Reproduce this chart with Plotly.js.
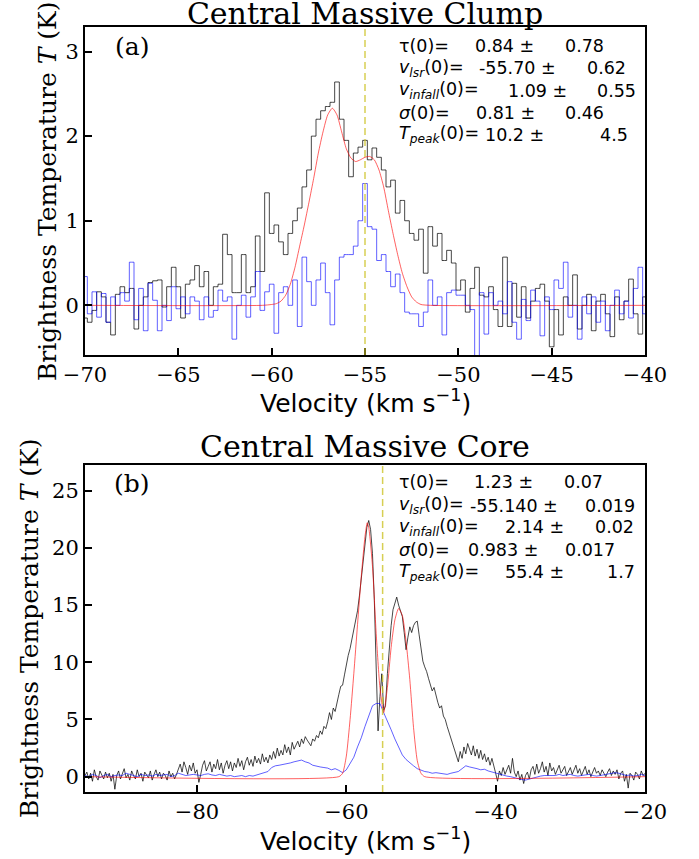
<!DOCTYPE html>
<html><head><meta charset="utf-8">
<script src="https://cdn.plot.ly/plotly-3.0.1.min.js"></script>
<style>html,body{margin:0;padding:0;background:#fff}#chart{width:699px;height:859px}</style>
</head><body><div id="chart"></div>
<script>
// ---------- Panel (a): Central Massive Clump ----------
const titleA = 'Central Massive Clump';
const velStartA = -70, chanWidthA = 0.25;
const blackA = [
 -0.15, -0.2, -0.06, 0.16, 0.1, -0.2, -0.35, 0.13, 0.22,
 0.15, 0.2, -0.28, 0.0, 0.1, 0.27, 0.29, 0.3,
 -0.02, 0.22, 0.45, 0.22, -0.15, 0.25, 0.3, 0.47,
 0.22, 0.4, 0.0, 0.22, 0.25, 0.84, 0.6, 0.15,
 0.15, 0.6, 0.15, 0.22, 0.82, 0.4, 1.33, 0.85,
 0.95, 0.75, 0.6, 0.85, 1.0, 1.15, 1.4, 1.6,
 2.0, 2.2, 2.3, 2.35, 2.4, 2.64, 2.2, 1.95,
 1.52, 1.8, 1.87, 1.95, 1.72, 1.86, 1.75, 1.6,
 1.4, 1.48, 1.09, 1.24, 1.0, 0.85, 0.77, 0.9,
 0.38, 0.93, 0.7, 0.85, 0.53, 0.65, 0.5, 0.18,
 0.3, -0.08, 0.2, 0.45, 0.12, 0.1, 0.22, -0.05,
 -0.25, 0.57, -0.25, 0.26, -0.14, 0.22, -0.15, 0.05,
 0.2, 0.25, 0.05, -0.49, -0.05, -0.35, 0.1, 0.0,
 0.36, -0.28, 0.0, 0.13, -0.3, 0.05, 0.13, -0.1,
 -0.37, 0.1, -0.17, 0.05, 0.31, -0.1, -0.34, 0.1
];
const blueA = [
 0.34, -0.1, 0.16, -0.14, 0.14, -0.2, 0.1, 0.0, 0.15,
 0.05, 0.51, -0.17, 0.2, -0.3, 0.26, 0.06, -0.3,
 0.0, -0.18, 0.22, -0.04, 0.1, -0.1, 0.1, 0.05,
 -0.17, 0.1, -0.14, -0.06, 0.18, 0.05, 0.1, -0.4,
 0.0, 0.12, -0.14, 0.1, 0.4, -0.06, 0.16, 0.25,
 -0.33, 0.15, 0.22, 0.0, 0.3, -0.25, 0.57, 0.28,
 0.0, 0.3, 0.5, 0.15, -0.23, 0.3, 0.57, 0.6,
 0.6, 0.7, 1.0, 1.44, 0.93, 0.9, 0.53, 0.6,
 0.4, 0.22, 0.37, 0.15, -0.08, -0.1, -0.1, -0.25,
 -0.08, 0.3, 0.0, 0.1, -0.35, 0.15, 0.18, 0.12,
 0.12, 0.0, -0.05, -0.7, 0.15, -0.34, 0.15, 0.0,
 0.05, -0.1, 0.28, -0.2, -0.4, 0.07, -0.18, 0.18,
 0.05, -0.36, 0.1, -0.05, 0.3, 0.2, 0.51, -0.14,
 0.0, -0.4, 0.1, -0.1, 0.1, -0.2, 0.05, -0.3,
 0.0, 0.18, -0.1, 0.05, -0.15, 0.2, 0.45, -0.1
];
const fitVelA = [-70, -60.5, -60.0, -59.75, -59.5, -59.25, -59.0, -58.75, -58.5, -58.25, -58.0, -57.75, -57.5, -57.25, -57.0, -56.75, -56.5, -56.25, -56.0, -55.75, -55.5, -55.25, -55.0, -54.75, -54.5, -54.25, -54.0, -53.75, -53.5, -53.25, -53.0, -52.75, -52.5, -52.25, -52.0, -51.5, -40];
const fitA = [0, 0, 0.01, 0.02, 0.05, 0.12, 0.25, 0.45, 0.7, 0.95, 1.22, 1.5, 1.8, 2.05, 2.25, 2.33, 2.25, 2.05, 1.85, 1.74, 1.70, 1.72, 1.75, 1.76, 1.72, 1.6, 1.4, 1.12, 0.85, 0.6, 0.38, 0.22, 0.1, 0.04, 0.01, 0, 0];
const vsysA = -55.0;
const paramValA = ['0.84 ±', '-55.70 ±', '1.09 ±', '0.81 ±', '10.2 ±'];
const paramErrA = ['0.78', '0.62', '0.55', '0.46', '4.5'];

// ---------- Panel (b): Central Massive Core ----------
const titleB = 'Central Massive Core';
const velStartB = -95, chanWidthB = 0.25;
const blackB = [
 0.1, 0.4, -0.2, 0.3, -0.4, 0.6, 0.0, -0.3, 0.5, 0.1, -0.2, 0.4, -0.1, 0.3, -0.4, 0.2, -1.1, 0.1, 0.5, -0.2,
 0.3, 0.7, -0.1, 0.2, -0.3, 0.5, 0.1, -0.2, 0.6, 0.0, 0.3, -0.4, 0.4, 0.1, -0.1, 0.5, -0.3, 0.2, 0.6, 0.0,
 0.4, -0.2, 0.3, 0.1, -0.3, 0.5, 0.0, 0.3, -0.2, 0.2, 0.6, 1.1, 0.4, 1.3, 0.8, 0.2, 1.0, 0.5, 1.2, 0.3,
 0.6, -0.5, 0.2, 1.0, 1.4, 0.5, 0.9, 1.3, 0.4, 1.1, 0.7, 1.5, 0.6, 1.2, 0.3, 1.0, 1.4, 0.7, 1.3, 0.5,
 1.2, 0.8, 1.6, 0.9, 1.4, 0.6, 1.3, 1.7, 1.0, 1.5, 0.9, 1.8, 1.2, 1.6, 1.1, 2.0, 1.3, 1.7, 1.2, 1.9,
 1.5, 2.2, 1.6, 2.5, 1.8, 2.3, 1.9, 2.8, 2.1, 2.6, 1.9, 3.0, 2.4, 2.7, 3.1, 2.6, 3.3, 2.9, 3.5, 3.2,
 3.0, 2.7, 3.3, 3.1, 3.6, 3.4, 4.0, 3.7, 4.4, 4.2, 4.8, 5.6, 5.0, 6.0, 5.7, 6.6, 7.2, 7.9, 8.0, 8.9,
 9.8, 10.6, 11.2, 12.0, 12.9, 13.7, 14.5, 15.8, 17.3, 18.8, 20.6, 21.8, 22.4, 21.6, 19.5, 15.4, 9.5, 4.0, 7.0, 9.0,
 5.8, 6.2, 9.0, 11.4, 13.2, 14.6, 15.1, 15.7, 15.0, 14.4, 14.0, 12.6, 11.1, 12.2, 13.1, 12.6, 13.2, 13.5, 13.6, 12.4,
 11.2, 10.1, 9.6, 9.2, 8.6, 8.1, 7.5, 7.8, 7.1, 6.5, 6.0, 6.2, 5.3, 5.0, 4.4, 3.9, 3.5, 3.0, 2.5, 1.9,
 1.3, 2.2, 1.6, 2.6, 2.0, 2.9, 2.3, 1.9, 2.7, 1.8, 2.4, 1.6, 2.3, 1.5, 2.0, 1.3, 1.7, 1.0, 1.6, 0.8,
 0.3, -0.4, 0.5, 0.1, 0.8, 0.2, 0.6, 1.0, 0.3, 1.6, 0.4, 0.0, 0.5, -0.3, 0.2, -0.6, 0.1, 0.4, -0.2, 0.6,
 0.9, 0.2, 1.1, 0.3, 0.7, 1.3, 0.4, 0.9, 0.1, 1.2, 0.5, 0.8, 0.2, 0.7, 1.0, 0.3, 0.6, 0.9, 0.1, 0.5,
 0.8, 0.2, 0.6, 1.0, 0.3, 0.7, 0.1, 0.5, 0.9, 0.2, 0.6, 0.0, 0.4, 0.8, 0.3, 0.5, 0.1, 0.6, 0.3, 0.0,
 0.4, 0.7, 0.1, 0.5, 0.2, 0.6, -0.2, 0.3, 0.5, -0.4, 0.2, -1.0, 0.3, 0.1, -0.3, 0.4, 0.2, -0.2, 0.5, 0.1,
 0.3
];
const blueVelStartB = -95, blueChanWidthB = 0.5;
const blueB = [
 0.1, 0.0, 0.2, 0.1, -0.1, 0.1, 0.2, 0.0, 0.1, 0.15,
 0.1, 0.3, 0.2, 0.1, 0.0, 0.2, 0.1, 0.15, 0.05, 0.2,
 0.1, 0.15, 0.2, 0.0, 0.1, 0.3, 0.2, 0.1, 0.15, 0.2,
 0.15, 0.1, 0.2, 0.25, 0.15, 0.1, 0.2, 0.15, 0.05, 0.1,
 0.0, 0.05, 0.1, 0.0, 0.1, 0.05, 0.15, 0.2, 0.3, 0.45,
 0.8, 0.95, 1.0, 1.05, 1.1, 1.2, 1.3, 1.4, 1.45, 1.3,
 1.2, 1.0, 0.9, 0.85, 0.8, 0.75, 0.6, 0.7, 0.55, 0.35,
 0.6, 1.1, 1.7, 2.6, 3.4, 4.4, 5.3, 6.2, 6.4, 6.4,
 5.6, 4.9, 4.1, 3.3, 2.6, 1.9, 1.5, 1.2, 0.95, 0.7,
 0.55, 0.45, 0.4, 0.3, 0.35, 0.3, 0.25, 0.2, 0.3, 0.35,
 0.45, 0.7, 0.95, 0.85, 0.8, 0.7, 0.6, 0.65, 0.5, 0.4,
 0.3, 0.2, 0.1, 0.05, 0.0, -0.1, -0.2, -0.25, -0.3, -0.2,
 -0.1, 0.0, 0.05, 0.1, 0.1, 0.15, 0.1, 0.2, 0.1, 0.15,
 0.2, 0.1, 0.05, 0.1, 0.15, 0.2, 0.1, 0.05, 0.1, 0.15,
 0.2, 0.25, 0.35, 0.3, 0.2, 0.1, 0.15, 0.05, 0.1, 0.2,
 0.1
];
const fitVelB = [-95, -61.0, -60.5, -60.0, -59.5, -59.0, -58.5, -58.0, -57.5, -57.2, -57.0, -56.5, -56.0, -55.5, -55.0, -54.5, -54.0, -53.5, -53.0, -52.5, -52.0, -51.5, -51.0, -50.5, -50.0, -49.5, -20];
const fitB = [0, 0, 0.3, 1.8, 5.0, 9.0, 13.3, 17.5, 21.0, 22.2, 21.8, 18.4, 12.5, 7.8, 5.6, 7.8, 11.3, 13.7, 14.7, 14.1, 11.8, 8.5, 4.3, 1.4, 0.3, 0, 0];
const vsysB = -55.14;
const paramValB = ['1.23 ±', '-55.140 ±', '2.14 ±', '0.983 ±', '55.4 ±'];
const paramErrB = ['0.07', '0.019', '0.02', '0.017', '1.7'];

const paramLabels = ['τ(0)=', '<i>v</i><sub><i>lsr</i></sub>(0)=', '<i>v</i><sub><i>infall</i></sub>(0)=', '<i>σ</i>(0)=', '<i>T</i><sub><i>peak</i></sub>(0)='];
const xLabel = 'Velocity (km s<sup>−1</sup>)';
const yLabel = 'Brightness Temperature <i>T</i> (K)';

// ---------- layout geometry (pixels) ----------
const W = 699, H = 859, mL = 85, mR = 54, mT = 27, mB = 67;
const PW = W - mL - mR, PH = H - mT - mB;
const px = p => (p - mL) / PW;
const py = p => (H - mB - p) / PH;

const colBlack = 'rgba(0,0,0,0.72)', colBlue = 'rgba(0,0,255,0.62)', colRed = 'rgba(255,0,0,0.62)';

const traces = [
  {type:'scatter', mode:'lines', x0:velStartA, dx:chanWidthA, y:blackA, xaxis:'x', yaxis:'y', line:{color:colBlack, width:1, shape:'hvh'}, hoverinfo:'skip'},
  {type:'scatter', mode:'lines', x0:velStartA, dx:chanWidthA, y:blueA, xaxis:'x', yaxis:'y', line:{color:colBlue, width:1, shape:'hvh'}, hoverinfo:'skip'},
  {type:'scatter', mode:'lines', x:fitVelA, y:fitA, xaxis:'x', yaxis:'y', line:{color:colRed, width:1, shape:'spline', smoothing:0.6}, hoverinfo:'skip'},
  {type:'scatter', mode:'lines', x0:velStartB, dx:chanWidthB, y:blackB, xaxis:'x2', yaxis:'y2', line:{color:colBlack, width:1}, hoverinfo:'skip'},
  {type:'scatter', mode:'lines', x0:blueVelStartB, dx:blueChanWidthB, y:blueB, xaxis:'x2', yaxis:'y2', line:{color:colBlue, width:1}, hoverinfo:'skip'},
  {type:'scatter', mode:'lines', x:fitVelB, y:fitB, xaxis:'x2', yaxis:'y2', line:{color:colRed, width:1, shape:'spline', smoothing:0.6}, hoverinfo:'skip'}
];

const axCommon = {showline:true, linecolor:'black', linewidth:2, mirror:true, ticks:'inside', ticklen:7, tickwidth:2, tickcolor:'black', showgrid:false, zeroline:false, fixedrange:true, tickfont:{family:'DejaVu Serif', size:21, color:'black'}};

const ann = [];
const serif = {family:'DejaVu Serif', color:'black'};
ann.push({xref:'paper', yref:'paper', x:px(365), y:py(446.5), text:titleB, showarrow:false, xanchor:'center', yanchor:'middle', font:{...serif, size:30}});
ann.push({xref:'paper', yref:'paper', x:px(131.5), y:py(46.5), text:'(a)', showarrow:false, xanchor:'center', yanchor:'middle', font:{...serif, size:25}});
ann.push({xref:'paper', yref:'paper', x:px(132), y:py(483.5), text:'(b)', showarrow:false, xanchor:'center', yanchor:'middle', font:{...serif, size:25}});
ann.push({xref:'paper', yref:'paper', x:px(365), y:py(401.5), text:xLabel, showarrow:false, xanchor:'center', yanchor:'middle', font:{family:'DejaVu Sans', size:25, color:'black'}});
ann.push({xref:'paper', yref:'paper', x:px(365), y:py(839), text:xLabel, showarrow:false, xanchor:'center', yanchor:'middle', font:{family:'DejaVu Sans', size:25, color:'black'}});
ann.push({xref:'paper', yref:'paper', x:px(47), y:py(191), text:yLabel, showarrow:false, textangle:-90, xanchor:'center', yanchor:'middle', font:{...serif, size:25}});
ann.push({xref:'paper', yref:'paper', x:px(29.5), y:py(628.5), text:yLabel, showarrow:false, textangle:-90, xanchor:'center', yanchor:'middle', font:{...serif, size:25}});

const sansParam = {family:'DejaVu Sans', size:17.5, color:'black'};
const rowsA = {base:[52.3, 74, 96.7, 119, 140.7], valX:[473, 476.7, 505.7, 474, 483], errX:[562.7, 585, 595, 563, 598], vals:paramValA, errs:paramErrA};
const rowsB = {base:[488.3, 511.7, 533.3, 556, 578.3], valX:[471.7, 468.3, 502.7, 466, 502.7], errX:[561.7, 582.7, 593.3, 562.7, 605], vals:paramValB, errs:paramErrB};
for (const r of [rowsA, rowsB]) {
  for (let i = 0; i < 5; i++) {
    const yc = py(r.base[i] - 6);
    ann.push({xref:'paper', yref:'paper', x:px(396.7), y:yc, text:paramLabels[i], showarrow:false, xanchor:'left', yanchor:'middle', font:sansParam});
    ann.push({xref:'paper', yref:'paper', x:px(r.valX[i]), y:yc, text:r.vals[i], showarrow:false, xanchor:'left', yanchor:'middle', font:sansParam});
    ann.push({xref:'paper', yref:'paper', x:px(r.errX[i]), y:yc, text:r.errs[i], showarrow:false, xanchor:'left', yanchor:'middle', font:sansParam});
  }
}

const dashLine = {color:'rgba(205,195,40,0.8)', width:1.5, dash:'7px,4px'};
const layout = {
  width:W, height:H, margin:{l:mL, r:mR, t:mT, b:mB},
  paper_bgcolor:'white', plot_bgcolor:'white', showlegend:false,
  title:{text:titleA, font:{family:'DejaVu Serif', size:30, color:'black'}, xref:'container', yref:'container', x:365/W, xanchor:'center', y:1 - 13.5/H, yanchor:'middle'},
  xaxis:{...axCommon, domain:[0,1], range:[-70,-40], dtick:5, tick0:0, anchor:'y'},
  yaxis:{...axCommon, domain:[py(355), 1], range:[-0.587, 3.29], dtick:1, tick0:0, anchor:'x'},
  xaxis2:{...axCommon, domain:[0,1], range:[-95,-20], dtick:20, tick0:0, anchor:'y2'},
  yaxis2:{...axCommon, domain:[0, py(465)], range:[-1.34, 27.25], dtick:5, tick0:0, anchor:'x2'},
  shapes:[
    {type:'line', xref:'x', yref:'y domain', x0:vsysA, x1:vsysA, y0:0, y1:1, line:dashLine},
    {type:'line', xref:'x2', yref:'y2 domain', x0:vsysB, x1:vsysB, y0:0, y1:1, line:dashLine}
  ],
  annotations:ann
};
Plotly.newPlot('chart', traces, layout, {staticPlot:true, displayModeBar:false});
</script></body></html>
